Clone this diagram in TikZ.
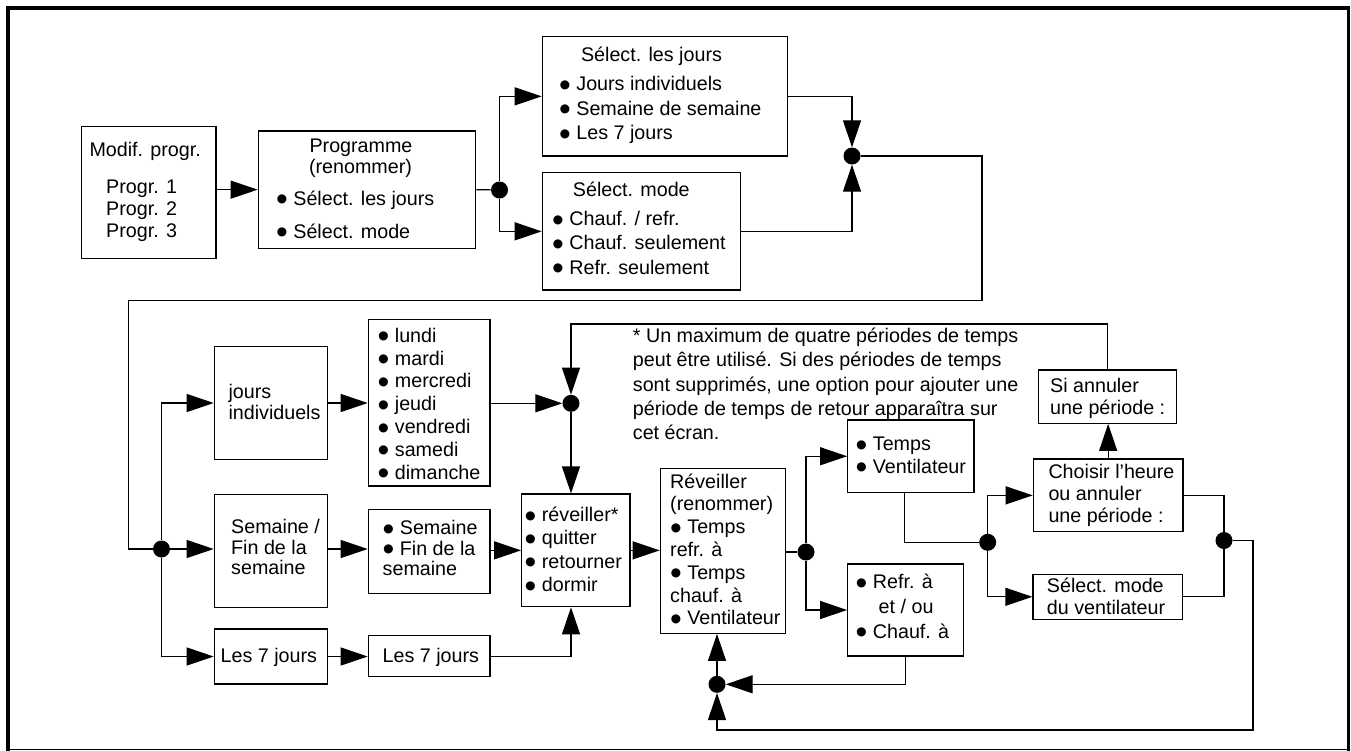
\documentclass[tikz,border=0pt]{standalone}
\usepackage{fontspec}
\setmainfont{Liberation Sans}
\usepackage{graphicx}
\usetikzlibrary{arrows.meta,calc}
\newcommand\bu{\raisebox{-0.28em}{\scalebox{1.7}{•}}}
\newcommand\tl[1]{\hbox{#1}}
\newcommand\stk[2][22]{\vtop{\baselineskip=#1pt\relax #2}}
\newcommand\bx[5]{\node[box, minimum width={#4-#2}, minimum height={#5-#3}] (#1) at ({(#2+#4)/2},{(#3+#5)/2}) {};}
\begin{document}
\begin{tikzpicture}[x=1pt,y=-1pt,
  every node/.style={font=\fontsize{19.7}{22}\selectfont},
  box/.style={draw, line width=1.2pt, inner sep=0pt},
  dot/.style={circle, fill, inner sep=0pt, minimum size=17pt},
  tx/.style={anchor=base west, inner sep=0pt},
  tc/.style={anchor=base, inner sep=0pt},
  ln/.style={line width=1.2pt},
  arr/.style={ln, -{Triangle[length=27pt,width=18pt]}}]
\useasboundingbox (0,0) rectangle (1351,750);
% frame
\draw[line width=3.3pt] (8,752) -- (8,8) -- (1348.3,8) -- (1348.3,752);
\draw[line width=1pt] (8,749.3) -- (1348.3,749.3);
% boxes
\bx{modif}{81.3}{126.7}{216}{258.3}
\bx{prog}{258.3}{131}{475.7}{248.3}
\bx{sjours}{542.3}{36.7}{787.3}{156}
\bx{smode}{542.3}{172.7}{740.7}{290}
\bx{jind}{214.3}{346.7}{327.3}{459.3}
\bx{lundi}{368.3}{319.3}{490}{486}
\bx{semfin}{214.3}{494.7}{327.3}{607.3}
\bx{sembul}{368.3}{509.3}{490}{593.3}
\bx{septa}{214.3}{629}{327.3}{684}
\bx{septb}{368.3}{635.7}{490}{676.7}
\bx{rev}{521.7}{494}{630}{606.7}
\bx{Rev}{660.3}{468.3}{785.7}{633.3}
\bx{temps}{847.7}{420}{974}{492.5}
\bx{refr}{847.7}{564}{963.3}{656}
\bx{choisir}{1033.3}{459}{1183}{531.7}
\bx{sventi}{1033}{574.3}{1182.3}{619.3}
\bx{siann}{1038.3}{370}{1176.7}{423.3}
% dots
\node[dot] (d1) at (499.5,190) {};
\node[dot] (d2) at (852,156) {};
\node[dot] (d3) at (161.5,549) {};
\node[dot] (d4) at (571,403.3) {};
\node[dot] (d5) at (806,552) {};
\node[dot] (d6) at (717,684.3) {};
\node[dot] (d7) at (987.7,542.3) {};
\node[dot] (d8) at (1224,540.5) {};
% texts
\node[tx] (tmodif) at (89.3,156.7) {Modif. progr.};
\node[tx] (tprogs) at (106,193.3) {\stk{\tl{Progr. 1}\tl{Progr. 2}\tl{Progr. 3}}};
\node[tc] (tprog1) at (361,152.7) {Programme};
\node[tc] (tprog2) at (360.5,173.7) {(renommer)};
\node[tx] (tprog3) at (276,205) {\bu{} Sélect. les jours};
\node[tx] (tprog4) at (276,238.3) {\bu{} Sélect. mode};
\node[tc] (tsj1) at (651.5,61.5) {Sélect. les jours};
\node[tx] (tsj2) at (559,90.5) {\stk[24.65]{\tl{\bu{} Jours individuels}\tl{\bu{} Semaine de semaine}\tl{\bu{} Les 7 jours}}};
\node[tx] (tsm1) at (572.7,196.5) {Sélect. mode};
\node[tx] (tsm2) at (552,225.5) {\stk[24.35]{\tl{\bu{} Chauf. / refr.}\tl{\bu{} Chauf. seulement}\tl{\bu{} Refr. seulement}}};
\node[tx] (tjind) at (228.3,398.2) {\stk[21]{\tl{jours}\tl{individuels}}};
\node[tx] (tlundi) at (377.5,342.2) {\stk[22.83]{\tl{\bu{} lundi}\tl{\bu{} mardi}\tl{\bu{} mercredi}\tl{\bu{} jeudi}\tl{\bu{} vendredi}\tl{\bu{} samedi}\tl{\bu{} dimanche}}};
\node[tx] (tsemfin) at (231,533.8) {\stk[20.5]{\tl{Semaine /}\tl{Fin de la}\tl{semaine}}};
\node[tx] (tsembul) at (382.5,534.8) {\stk[20.5]{\tl{\bu{} Semaine}\tl{\bu{} Fin de la}\tl{semaine}}};
\node[tc] (tsepta) at (268.8,662.5) {Les 7 jours};
\node[tc] (tseptb) at (430.8,662.5) {Les 7 jours};
\node[tx] (trev) at (524.5,521.5) {\stk[23.33]{\tl{\bu{} réveiller*}\tl{\bu{} quitter}\tl{\bu{} retourner}\tl{\bu{} dormir}}};
\node[tx] (tRev) at (670,488.2) {\stk[22.77]{\tl{Réveiller}\tl{(renommer)}\tl{\bu{} Temps}\tl{refr. à}\tl{\bu{} Temps}\tl{chauf. à}\tl{\bu{} Ventilateur}}};
\node[tx] (ttemps) at (855.5,450.8) {\stk[22.4]{\tl{\bu{} Temps}\tl{\bu{} Ventilateur}}};
\node[tx] (trefr) at (855.5,588.8) {\stk[24.7]{\tl{\bu{} Refr. à}\tl{\hskip23pt et / ou}\tl{\bu{} Chauf. à}}};
\node[tx] (tchoisir) at (1048.3,478.2) {\stk[22.15]{\tl{Choisir l’heure}\tl{ou annuler}\tl{une période :}}};
\node[tx] (tsventi) at (1046.7,592.5) {\stk[22.3]{\tl{Sélect. mode}\tl{du ventilateur}}};
\node[tx] (tsiann) at (1050,392.5) {\stk[22.3]{\tl{Si annuler}\tl{une période :}}};
\node[tx] (tnote) at (632.7,342.2) {\stk[24.4]{\tl{* Un maximum de quatre périodes de temps}\tl{peut être utilisé. Si des périodes de temps}\tl{sont supprimés, une option pour ajouter une}\tl{période de temps de retour apparaîtra sur}\tl{cet écran.}}};
% coordinates
\coordinate (c2b) at (982,300.7);
\coordinate (c2c) at (128.7,549);
\coordinate (ctop) at (571,324);
\coordinate (c8a) at (1253,540.5);
\coordinate (c8b) at (1253,730);
% connectors
\draw[arr] (modif.east |- prog.west) -- (prog.west);
\draw[ln] (prog.east) -- (d1);
\draw[arr] (d1) |- (sjours.west);
\draw[arr] (d1) |- (smode.west);
\draw[arr] (sjours.east) -| (d2);
\draw[arr] (smode.east) -| (d2);
\draw[ln] (d2) -| (c2b) -| (c2c) -- (d3);
\draw[arr] (d3) |- (jind.west);
\draw[arr] (d3) -- (d3 -| semfin.west);
\draw[arr] (d3) |- (septa.west);
\draw[arr] (jind.east) -- (jind.east -| lundi.west);
\draw[arr] (lundi.east |- d4) -- (d4);
\draw[arr] (d4) -- (d4 |- rev.north);
\draw[arr] (siann.north) |- (ctop) -- (d4);
\draw[arr] (semfin.east |- d3) -- (sembul.west |- d3);
\draw[arr] (sembul.east |- rev.west) -- (rev.west);
\draw[arr] (septa.east) -- (septa.east -| septb.west);
\draw[arr] (septb.east) -| (d4 |- rev.south);
\draw[arr] (rev.east) -- (rev.east -| Rev.west);
\draw[ln] (Rev.east |- d5) -- (d5);
\draw[arr] (d5) |- (temps.west);
\draw[arr] (d5) |- (refr.west);
\draw[ln] ([xshift=-6pt]temps.south) |- (d7);
\draw[arr] (refr.south) |- (d6);
\draw[arr] (d6) -- (d6 |- Rev.south);
\draw[arr] (d8) -- (c8a) -- (c8b) -- (c8b -| d6) -- (d6);
\draw[arr] (d7) |- (choisir.west);
\draw[arr] (d7) |- (sventi.west);
\draw[ln] (choisir.east) -| (d8);
\draw[ln] (sventi.east) -| (d8);
\draw[arr] (choisir.north) -- (choisir.north |- siann.south);
\end{tikzpicture}
\end{document}
